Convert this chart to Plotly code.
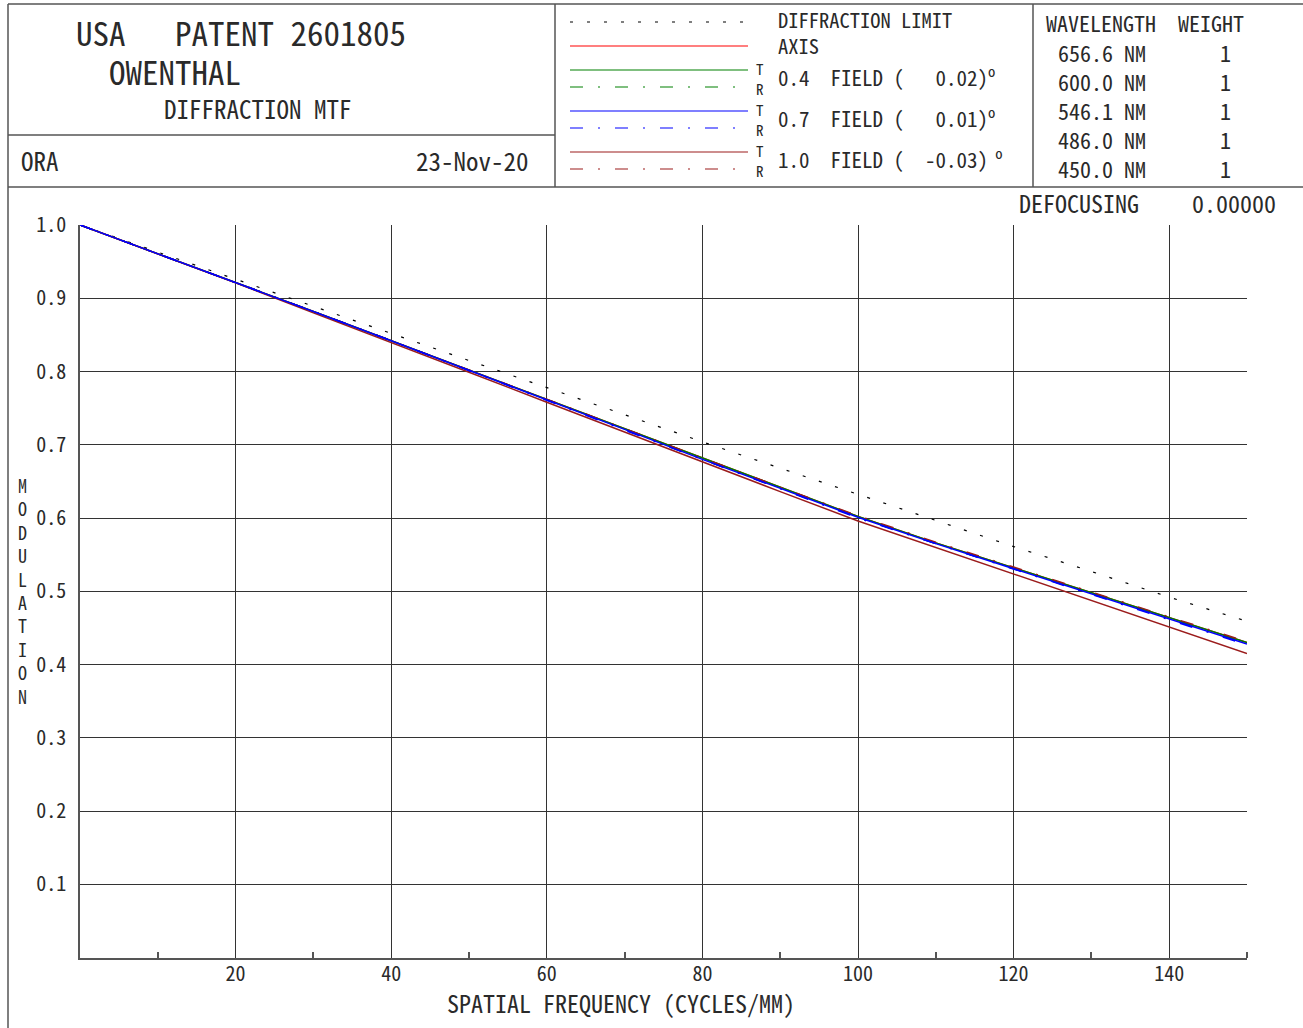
import plotly.graph_objects as go

# ---------------- data ----------------
freq = [0, 10, 20, 30, 40, 50, 60, 70, 80, 90, 100, 110, 120, 130, 140, 150]
diffraction_limit = [1.000, 0.963, 0.925, 0.888, 0.851, 0.814, 0.777, 0.741, 0.704, 0.668, 0.632, 0.596, 0.561, 0.527, 0.492, 0.459]
axis_mtf = [1.000, 0.961, 0.922, 0.882, 0.842, 0.802, 0.762, 0.722, 0.681, 0.641, 0.602, 0.566, 0.532, 0.498, 0.464, 0.430]
f04_t = [1.000, 0.961, 0.922, 0.882, 0.842, 0.802, 0.762, 0.721, 0.681, 0.641, 0.602, 0.566, 0.532, 0.497, 0.463, 0.430]
f04_r = [1.000, 0.961, 0.922, 0.882, 0.842, 0.802, 0.762, 0.721, 0.680, 0.640, 0.601, 0.565, 0.531, 0.497, 0.463, 0.429]
f07_t = [1.000, 0.961, 0.922, 0.882, 0.842, 0.802, 0.761, 0.721, 0.680, 0.640, 0.601, 0.565, 0.531, 0.496, 0.462, 0.428]
f07_r = [1.000, 0.961, 0.922, 0.882, 0.842, 0.801, 0.761, 0.720, 0.680, 0.640, 0.600, 0.565, 0.530, 0.495, 0.461, 0.427]
f10_t = [1.000, 0.961, 0.921, 0.880, 0.840, 0.799, 0.758, 0.717, 0.676, 0.636, 0.596, 0.560, 0.524, 0.488, 0.451, 0.415]
f10_r = [1.000, 0.961, 0.922, 0.882, 0.842, 0.802, 0.762, 0.722, 0.681, 0.642, 0.603, 0.567, 0.533, 0.499, 0.465, 0.431]

x_tick_vals = [20, 40, 60, 80, 100, 120, 140]
x_minor_vals = [10, 30, 50, 70, 90, 110, 130, 150]
y_tick_vals = [0.1, 0.2, 0.3, 0.4, 0.5, 0.6, 0.7, 0.8, 0.9, 1.0]

wavelengths = ["656.6 NM", "600.0 NM", "546.1 NM", "486.0 NM", "450.0 NM"]
weights = ["1", "1", "1", "1", "1"]

# ---------------- styles ----------------
W, H = 1303, 1028
FONT = "Noto Sans Mono CJK KR, Noto Sans CJK KR, DejaVu Sans Mono, monospace"
TXT = "#2a2a2a"
RED, GREEN, BLUE, BROWN = "#ff0000", "#008000", "#0000ff", "#9b1c1c"
DOT = "3px,14px"
DASHDOT = "13px,15px,2px,15px"


def px(x):
    return x / W


def py(y):
    return 1 - y / H


fig = go.Figure()

series = [
    ("DIFFRACTION LIMIT", diffraction_limit, "#000000", DOT, 1.2),
    ("AXIS", axis_mtf, RED, "solid", 1.5),
    ("0.4 T", f04_t, GREEN, "solid", 1.5),
    ("0.4 R", f04_r, GREEN, DASHDOT, 1.5),
    ("1.0 T", f10_t, BROWN, "solid", 1.5),
    ("1.0 R", f10_r, BROWN, DASHDOT, 1.5),
    ("0.7 T", f07_t, BLUE, "solid", 1.5),
    ("0.7 R", f07_r, BLUE, DASHDOT, 1.5),
]
for name, vals, col, dash, w in series:
    fig.add_trace(go.Scatter(x=freq, y=vals, mode="lines", name=name,
                             line=dict(color=col, dash=dash, width=w),
                             showlegend=False, hoverinfo="skip"))

shapes = []


def hline(y, x0, x1, color="#555555", width=1.5, dash="solid"):
    shapes.append(dict(type="line", xref="paper", yref="paper",
                       x0=px(x0), x1=px(x1), y0=py(y), y1=py(y),
                       line=dict(color=color, width=width, dash=dash)))


def vline(x, y0, y1, color="#555555", width=1.5):
    shapes.append(dict(type="line", xref="paper", yref="paper",
                       x0=px(x), x1=px(x), y0=py(y0), y1=py(y1),
                       line=dict(color=color, width=width)))


# header frame
hline(4, 8, 1303)
vline(8, 4, 1028)
vline(555, 4, 187)
vline(1033, 4, 187)
hline(135, 8, 555)
hline(187, 8, 1303)

# legend samples
hline(22, 570, 748, "#000000", 1.2, DOT)
hline(46, 570, 748, RED, 1.2)
hline(70, 570, 748, GREEN, 1.2)
hline(87, 570, 748, GREEN, 1.2, DASHDOT)
hline(111, 570, 748, BLUE, 1.2)
hline(128, 570, 748, BLUE, 1.2, DASHDOT)
hline(152, 570, 748, BROWN, 1.2)
hline(169, 570, 748, BROWN, 1.2, DASHDOT)

annotations = []


def text(x, y, s, size, anchor="left"):
    annotations.append(dict(xref="paper", yref="paper", x=px(x), y=py(y), text=s,
                            xanchor=anchor, yanchor="middle", showarrow=False,
                            font=dict(family=FONT, size=size, color=TXT),
                            borderpad=0))


text(75, 32, "USA   PATENT 2601805", 33)
text(108, 71, "OWENTHAL", 33)
text(163, 108, "DIFFRACTION MTF", 25)
text(20, 160, "ORA", 25)
text(530, 160, "23-Nov-20", 25, "right")

text(777, 19, "DIFFRACTION LIMIT", 20.5)
text(777, 45, "AXIS", 20.5)
text(777, 76, "0.4  FIELD (   0.02)<sup>o</sup>", 21)
text(777, 117, "0.7  FIELD (   0.01)<sup>o</sup>", 21)
text(777, 158, "1.0  FIELD (  -0.03)<sup> o</sup>", 21)
for yt in [70, 111, 152]:
    text(760, yt + 8.5, "T<br>R", 15, "center")

text(1045, 22, "WAVELENGTH  WEIGHT", 22)
for i, (wl, wt) in enumerate(zip(wavelengths, weights)):
    yy = 52 + i * 29.1
    text(1057, yy, wl, 22)
    text(1225, yy, wt, 22, "center")
text(1018, 203, "DEFOCUSING", 24)
text(1277, 203, "0.00000", 24, "right")

text(22, 590, "<br>".join(list("MODULATION")), 18, "center")
text(621, 1002, "SPATIAL FREQUENCY (CYCLES/MM)", 24, "center")

fig.update_layout(
    width=W, height=H,
    margin=dict(l=0, r=0, t=0, b=0, pad=0, autoexpand=False),
    paper_bgcolor="white", plot_bgcolor="white",
    shapes=shapes, annotations=annotations,
    xaxis=dict(domain=[px(80), px(1247)], range=[0, 150],
               tickvals=x_tick_vals, ticktext=[str(v) for v in x_tick_vals],
               ticks="", showgrid=True, gridcolor="#333333", gridwidth=1.2,
               showline=True, linecolor="#555555", linewidth=1.5,
               zeroline=False, ticklabelstandoff=-2, automargin=False,
               tickfont=dict(family=FONT, size=20, color=TXT),
               minor=dict(tickvals=x_minor_vals, ticks="inside", ticklen=6,
                          tickcolor="#555555", tickwidth=1.5, showgrid=False)),
    yaxis=dict(domain=[py(957.5), py(225)], range=[0, 1.0],
               tickvals=y_tick_vals, ticktext=["%.1f" % v for v in y_tick_vals],
               ticks="", showgrid=True, gridcolor="#333333", gridwidth=1.2,
               showline=True, linecolor="#555555", linewidth=1.5,
               zeroline=False, ticklabelstandoff=8, automargin=False,
               tickfont=dict(family=FONT, size=20, color=TXT)),
)

fig.write_html(
    "out.html",
    config={"displayModeBar": False},
    post_script=(
        "document.documentElement.style.margin='0';"
        "document.documentElement.style.overflow='hidden';"
        "document.body.style.margin='0';"
        "document.body.style.overflow='hidden';"
    ),
)
